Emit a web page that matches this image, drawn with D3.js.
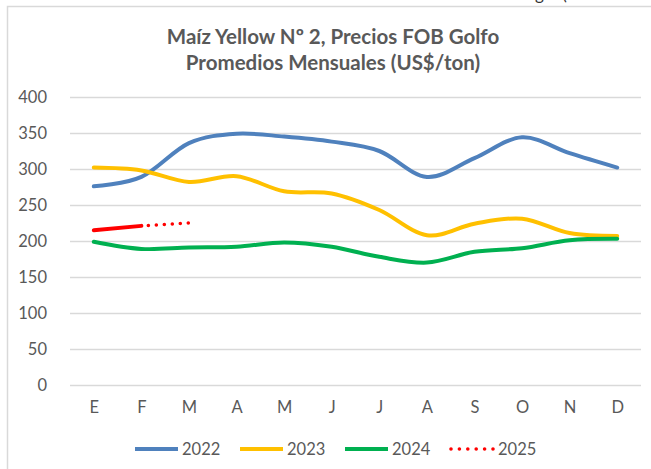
<!DOCTYPE html>
<html>
<head>
<meta charset="utf-8">
<script src="https://cdn.jsdelivr.net/npm/d3@7"></script>
<style>
  body { margin: 0; background: #fff; }
  text { font-family: Lato, "Open Sans", sans-serif; fill: #595959; }
</style>
</head>
<body>
<div id="chart"></div>
<script>
// months (Spanish initials)
var months = ["E", "F", "M", "A", "M", "J", "J", "A", "S", "O", "N", "D"];
var yTicks = [0, 50, 100, 150, 200, 250, 300, 350, 400];

var years = ["2022", "2023", "2024", "2025"];
var v2022 = [276, 289, 336, 349, 345, 338, 325, 289, 315, 344, 322, 302];
var v2023 = [302, 298, 282, 290, 269, 266, 243, 208, 224, 231, 211, 207];
var v2024 = [199, 189, 191, 192, 198, 192, 178, 170, 185, 190, 201, 203];
var v2025 = [215, 221];
var v2025proj = [221, 225]; // dotted part, F -> M

var colors = {"2022": "#4f81bd", "2023": "#ffc000", "2024": "#00b050", "2025": "#ff0000"};

var svgWidth = 651, svgHeight = 469;
var plot = {left: 70, right: 641, top: 97, bottom: 385};

var svg = d3.select("#chart").append("svg")
  .attr("width", svgWidth)
  .attr("height", svgHeight);

// chart frame
svg.append("path")
  .attr("d", "M7.5,469 V6.5 H651")
  .attr("fill", "none")
  .attr("stroke", "#d9d9d9")
  .attr("stroke-width", 1.5);

// cut-off text from the page above the chart
svg.append("text")
  .attr("x", 535)
  .attr("y", 0)
  .style("font-size", "17px")
  .style("fill", "#333")
  .style("word-spacing", "14px")
  .text("g (");

var x = d3.scalePoint()
  .domain(d3.range(months.length))
  .range([plot.left, plot.right])
  .padding(0.5);

var y = d3.scaleLinear()
  .domain([0, 400])
  .range([plot.bottom, plot.top]);

// gridlines
svg.append("g")
  .selectAll("line")
  .data(yTicks)
  .enter()
  .append("line")
  .attr("x1", plot.left)
  .attr("x2", plot.right)
  .attr("y1", d => Math.round(y(d)) + 0.5)
  .attr("y2", d => Math.round(y(d)) + 0.5)
  .attr("stroke", "#d9d9d9")
  .attr("stroke-width", 1.3);

// y axis labels
var yAxis = svg.append("g")
  .attr("transform", `translate(${plot.left}, 0)`)
  .call(d3.axisLeft(y).tickValues(yTicks).tickSize(0).tickPadding(23));
yAxis.select(".domain").remove();
yAxis.selectAll("text")
  .style("font-size", "16.5px")
  .style("fill", "#595959")
  .style("font-family", "Lato, sans-serif");

// x axis labels
var xAxis = svg.append("g")
  .attr("transform", `translate(0, ${plot.bottom})`)
  .call(d3.axisBottom(x).tickFormat(i => months[i]).tickSize(0).tickPadding(16));
xAxis.select(".domain").remove();
xAxis.selectAll("text")
  .style("font-size", "16.5px")
  .style("fill", "#595959")
  .style("font-family", "Lato, sans-serif");

var line = d3.line()
  .x((d, i) => x(i))
  .y(d => y(d))
  .curve(d3.curveCardinal.tension(0));

var series = [
  {key: "2022", values: v2022},
  {key: "2023", values: v2023},
  {key: "2024", values: v2024}
];

svg.append("g")
  .selectAll("path")
  .data(series)
  .enter()
  .append("path")
  .attr("d", d => line(d.values))
  .attr("fill", "none")
  .attr("stroke", d => colors[d.key])
  .attr("stroke-width", 4)
  .attr("stroke-linecap", "round");

// 2025: solid E-F, dotted F-M
svg.append("path")
  .attr("d", line(v2025))
  .attr("fill", "none")
  .attr("stroke", colors["2025"])
  .attr("stroke-width", 4)
  .attr("stroke-linecap", "round");

var projLine = d3.line()
  .x((d, i) => x(i + 1))
  .y(d => y(d));

svg.append("path")
  .attr("d", projLine(v2025proj))
  .attr("fill", "none")
  .attr("stroke", colors["2025"])
  .attr("stroke-width", 3.6)
  .attr("stroke-linecap", "round")
  .attr("stroke-dasharray", "0 8")
  .attr("stroke-dashoffset", -7);

// title
var title = svg.append("text")
  .attr("x", 333)
  .attr("text-anchor", "middle")
  .style("font-size", "20.5px")
  .style("font-weight", "bold");
title.append("tspan").attr("x", 333).attr("y", 44).text("Maíz Yellow Nº 2, Precios FOB Golfo");
title.append("tspan").attr("x", 333).attr("y", 70).text("Promedios Mensuales (US$/ton)");

// legend
var legendX = [135, 240, 345, 451];
var legend = svg.append("g")
  .selectAll("g")
  .data(years)
  .enter()
  .append("g")
  .attr("transform", (d, i) => `translate(${legendX[i]}, 449)`);

legend.append("line")
  .attr("x1", 0)
  .attr("x2", 43)
  .attr("stroke", d => colors[d])
  .attr("stroke-width", d => d === "2025" ? 3.6 : 4)
  .attr("stroke-linecap", d => d === "2025" ? "round" : "butt")
  .attr("stroke-dasharray", d => d === "2025" ? "0 8.4" : null);

legend.append("text")
  .attr("x", 47)
  .attr("dy", "0.36em")
  .style("font-size", "16.5px")
  .text(d => d);
</script>
</body>
</html>
